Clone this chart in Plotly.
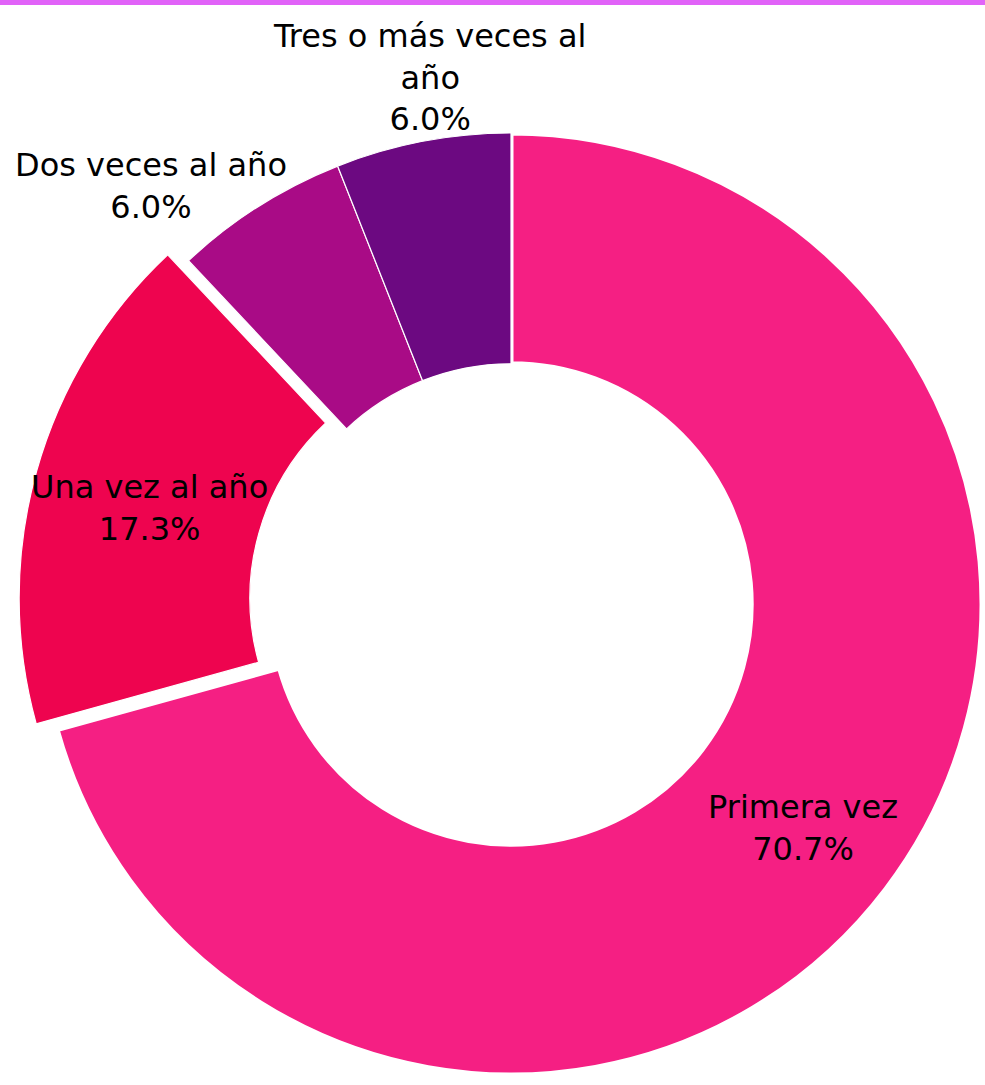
import math
import plotly.graph_objects as go

# Visit frequency shares (percent)
categories = ["Primera vez", "Una vez al año", "Dos veces al año", "Tres o más veces al año"]
shares = [70.7, 17.3, 6.0, 6.0]
label_lines = ["Primera vez", "Una vez al año", "Dos veces al año", "Tres o más veces al<br>año"]
slice_colors = ["#F51F83", "#EE044F", "#A90B86", "#6C0981"]
pull = [0.0, 0.046, 0.0, 0.0]

# Canvas and donut geometry (pixels)
W, H = 985, 1085
CX, CY, R = 511, 604, 471
HOLE = 0.51
FONT = dict(family="DejaVu Sans", size=32, color="#000000")
CLEAR = "rgba(0,0,0,0)"

total = sum(shares)
mid_angles = []
acc = 0.0
for v in shares:
    mid_angles.append((acc + v / 2) / total * 2 * math.pi)
    acc += v


def pie_domain(dx=0.0, dy_up=0.0):
    return dict(
        x=[(CX - R + dx) / W, (CX + R + dx) / W],
        y=[(H - CY - R + dy_up) / H, (H - CY + R + dy_up) / H],
    )


def pull_offset(i):
    d = pull[i] * R
    return d * math.sin(mid_angles[i]), d * math.cos(mid_angles[i])


def pie_trace(show, dom):
    colors = [c if s else CLEAR for c, s in zip(slice_colors, show)]
    widths = []
    for i, s in enumerate(show):
        if not s:
            widths.append(0)
        elif i == 0:
            widths.append(5)
        else:
            widths.append(1.2)
    return go.Pie(
        labels=categories,
        values=shares,
        textinfo="none",
        hole=HOLE,
        sort=False,
        direction="clockwise",
        rotation=0,
        marker=dict(colors=colors, line=dict(color="#FFFFFF", width=widths)),
        domain=dom,
        showlegend=False,
        hoverinfo="label+percent",
    )


fig = go.Figure()

# slices that stay in place
fig.add_trace(pie_trace([p == 0 for p in pull], pie_domain()))

# exploded slices, offset along their mid-angle
for i, p in enumerate(pull):
    if p > 0:
        dx, dy = pull_offset(i)
        fig.add_trace(pie_trace([j == i for j in range(len(shares))], pie_domain(dx, dy)))


def ring_point(i, radius):
    dx, dy = pull_offset(i)
    a = mid_angles[i]
    px = CX + dx + radius * math.sin(a)
    py = CY - dy - radius * math.cos(a)
    return px / W, 1 - py / H


# label placement: (radius, style)
R_MID = R * (1 + HOLE) / 2
label_style = {
    0: (R_MID, dict(xanchor="center", yanchor="middle", xshift=9, yshift=-9)),
    1: (R_MID, dict(xanchor="center", yanchor="middle", xshift=2, yshift=-6)),
    2: (R, dict(xanchor="right", yanchor="bottom", xshift=30, yshift=-22)),
    3: (R, dict(xanchor="center", yanchor="bottom", xshift=7, yshift=1)),
}
for i, (rad, style) in label_style.items():
    x, y = ring_point(i, rad)
    fig.add_annotation(
        x=x, y=y, xref="paper", yref="paper",
        text=f"{label_lines[i]}<br>{shares[i] / total:.1%}",
        showarrow=False, font=FONT, align="center", **style,
    )

# top accent band
fig.add_shape(type="rect", xref="paper", yref="paper", x0=0, x1=1, y0=1 - 5 / H, y1=1,
              fillcolor="#E163F8", line=dict(width=0), layer="above")

fig.update_layout(
    width=W, height=H,
    margin=dict(l=0, r=0, t=0, b=0),
    paper_bgcolor="#FFFFFF",
    plot_bgcolor="#FFFFFF",
)

fig.write_html("out.html")
